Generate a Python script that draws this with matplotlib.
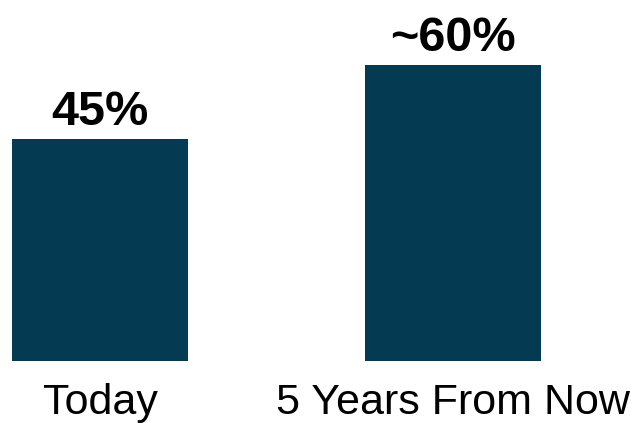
import matplotlib
matplotlib.use("Agg")
import matplotlib.pyplot as plt

categories = ["Today", "5 Years From Now"]
values = [45, 60]
value_labels = ["45%", "~60%"]

plt.rcParams['font.family'] = ['Liberation Sans', 'DejaVu Sans']

fig = plt.figure(figsize=(6.32, 4.23), dpi=100)
ax = fig.add_axes([0, 1 - 361 / 423, 1, 361 / 423])

x = list(range(len(categories)))
bars = ax.bar(x, values, width=0.5, color='#043A52')

ax.set_xlim(-100 / 353, 532 / 353)
ax.set_ylim(0, 73.2)

for xi, v, lab in zip(x, values, value_labels):
    ax.annotate(lab, (xi, v), xytext=(0, 10), textcoords='offset points',
                ha='center', va='baseline', fontsize=35, fontweight='bold',
                color='black')

ax.set_xticks(x)
ax.set_xticklabels(categories, fontsize=31)
ax.tick_params(axis='x', length=0, pad=16)
ax.set_yticks([])
for s in ax.spines.values():
    s.set_visible(False)

fig.savefig("out.png", dpi=100)
